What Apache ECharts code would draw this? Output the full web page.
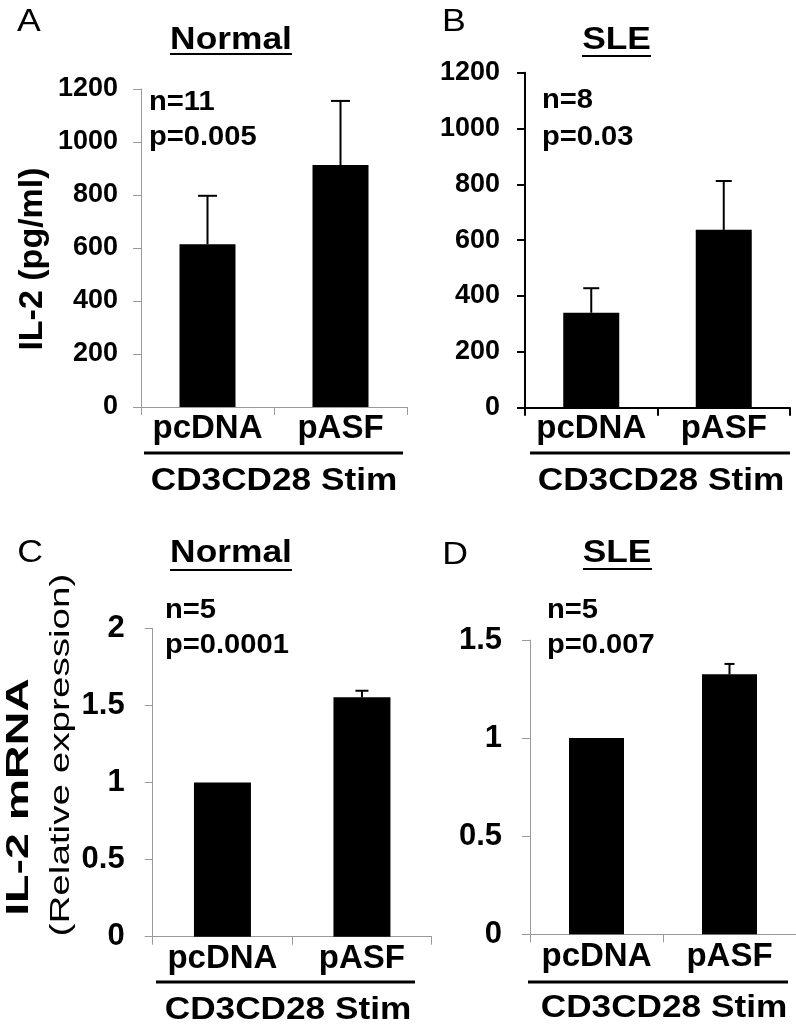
<!DOCTYPE html>
<html>
<head>
<meta charset="utf-8">
<script src="https://cdn.jsdelivr.net/npm/echarts@6/dist/echarts.min.js"></script>
<style>
html,body{margin:0;padding:0;background:#fff;}
#chart{width:796px;height:1036px;}
</style>
</head>
<body>
<div id="chart"></div>
<script>
// ---- data ----
const categories = ['pcDNA', 'pASF'];
const normalProtein = [614, 913];      // Panel A IL-2 (pg/ml)
const normalProteinErr = [183, 242];
const sleProtein = [340, 637];         // Panel B
const sleProteinErr = [88, 175];
const normalMrna = [1.0, 1.553];       // Panel C relative expression
const normalMrnaErr = [0, 0.042];
const sleMrna = [1.0, 1.325];          // Panel D
const sleMrnaErr = [0, 0.053];
const proteinTicks = {min: 0, max: 1200, interval: 200};
const mrnaTicksC = {min: 0, max: 2, interval: 0.5};
const mrnaTicksD = {min: 0, max: 1.5, interval: 0.5};
const panelTitles = ['Normal', 'SLE', 'Normal', 'SLE'];
const panelLetters = ['A', 'B', 'C', 'D'];
const stats = [['n=11', 'p=0.005'], ['n=8', 'p=0.03'], ['n=5', 'p=0.0001'], ['n=5', 'p=0.007']];
const groupLabel = 'CD3CD28 Stim';
const yTitleProtein = 'IL-2 (pg/ml)';
const yTitleMrna1 = 'IL-2 mRNA';
const yTitleMrna2 = '(Relative expression)';

// ---- layout ----
const FONT = '"Liberation Sans", Arial, Helvetica, sans-serif';
const grey = '#999999';
const grids = [
  {left: 141, top: 89, width: 266, height: 318},
  {left: 525, top: 72.7, width: 265, height: 335},
  {left: 152.7, top: 628.3, width: 279, height: 308.4},
  {left: 530, top: 640, width: 266, height: 294.3}
];
const axisColors = [grey, '#000', grey, grey];
const axisWidths = [1, 2, 1, 1];
const tickFont = [27, 27, 31, 31];
const labelMargins = [23, 25, 28, 28];
const catMargins = [5, 5, 6, 6];
const barWidths = [56, 56, 57, 55];
const capWidths = [19, 16, 13, 10];
const ticks = [proteinTicks, proteinTicks, mrnaTicksC, mrnaTicksD];
const means = [normalProtein, sleProtein, normalMrna, sleMrna];
const errs = [normalProteinErr, sleProteinErr, normalMrnaErr, sleMrnaErr];

const xAxis = [], yAxis = [], series = [];
for (let k = 0; k < 4; k++) {
  xAxis.push({
    type: 'category', gridIndex: k, data: categories, boundaryGap: true,
    axisLine: {lineStyle: {color: axisColors[k], width: axisWidths[k]}},
    axisTick: {show: true, alignWithLabel: false, length: 8, lineStyle: {color: axisColors[k], width: axisWidths[k]}},
    axisLabel: {interval: 0, margin: catMargins[k], color: '#000', fontSize: 33, fontWeight: 'bold', fontFamily: FONT},
    splitLine: {show: false}
  });
  yAxis.push({
    type: 'value', gridIndex: k, min: ticks[k].min, max: ticks[k].max, interval: ticks[k].interval,
    axisLine: {show: true, lineStyle: {color: axisColors[k], width: axisWidths[k]}},
    axisTick: {show: true, length: 8, lineStyle: {color: axisColors[k], width: axisWidths[k]}},
    axisLabel: {margin: labelMargins[k], color: '#000', fontSize: tickFont[k], fontWeight: 'bold', fontFamily: FONT,
      formatter: function (v) { return String(v); }},
    splitLine: {show: false}
  });
  series.push({
    type: 'bar', xAxisIndex: k, yAxisIndex: k, data: means[k], barWidth: barWidths[k],
    itemStyle: {color: '#000'}, silent: true, z: 2
  });
  const cap = capWidths[k];
  series.push({
    type: 'custom', xAxisIndex: k, yAxisIndex: k, z: 3, silent: true,
    data: means[k].map((m, i) => [i, m, errs[k][i]]),
    encode: {x: 0, y: 1},
    renderItem: function (params, api) {
      const i = api.value(0), m = api.value(1), e = api.value(2);
      if (!e) return {type: 'group', children: []};
      const p0 = api.coord([i, m]);
      const p1 = api.coord([i, m + e]);
      return {type: 'group', children: [
        {type: 'line', shape: {x1: p0[0], y1: p0[1], x2: p1[0], y2: p1[1]}, style: {stroke: '#000', lineWidth: 2}},
        {type: 'line', shape: {x1: p1[0] - cap / 2, y1: p1[1], x2: p1[0] + cap / 2, y2: p1[1]}, style: {stroke: '#000', lineWidth: 2}}
      ]};
    }
  });
}

function txt(x, y, text, size, weight, opt) {
  opt = opt || {};
  return {
    type: 'text', x: x, y: y, rotation: opt.rotation || 0, scaleX: opt.scaleX || 1, scaleY: opt.scaleY || 1,
    silent: true,
    style: {text: text, fontSize: size, fontWeight: weight, fontFamily: FONT, fill: '#000',
      align: opt.align || 'center', verticalAlign: 'middle'}
  };
}
function hline(x1, x2, y, w) {
  return {type: 'line', silent: true, shape: {x1: x1, y1: y, x2: x2, y2: y}, style: {stroke: '#000', lineWidth: w}};
}

const letterPos = [[29, 22], [454, 22], [30, 553], [455, 555]];
const titlePos = [[231, 40, 170, 292, 54], [616.5, 40, 582, 651, 56], [231, 553, 170, 292, 570], [617, 553, 583, 652, 569]];
const statPos = [[149, 102, 137], [542, 100, 137], [165, 610, 645], [547, 610, 645]];
const groupPos = [[144, 403, 453, 274, 481], [530, 790, 453, 661, 481], [156, 415, 982, 288, 1010], [528, 788, 982, 664, 1008]];

const graphic = [];
for (let k = 0; k < 4; k++) {
  graphic.push(txt(letterPos[k][0], letterPos[k][1], panelLetters[k], 31, 'normal', {scaleX: 1.15}));
  const t = titlePos[k];
  graphic.push(txt(t[0], t[1], panelTitles[k], 31, 'bold', {scaleX: 1.14}));
  graphic.push(hline(t[2], t[3], t[4], 2));
  const s = statPos[k];
  graphic.push(txt(s[0], s[1], stats[k][0], 28, 'bold', {align: 'left', scaleX: 1.04}));
  graphic.push(txt(s[0], s[2], stats[k][1], 28, 'bold', {align: 'left', scaleX: 1.04}));
  const g = groupPos[k];
  graphic.push(hline(g[0], g[1], g[2], 3));
  graphic.push(txt(g[3], g[4], groupLabel, 32, 'bold', {scaleX: 1.1}));
}
graphic.push(txt(33, 259, yTitleProtein, 34, 'bold', {rotation: Math.PI / 2}));
graphic.push(txt(19, 797, yTitleMrna1, 31, 'bold', {rotation: Math.PI / 2, scaleX: 1.5}));
graphic.push(txt(61, 755, yTitleMrna2, 28, 'normal', {rotation: Math.PI / 2, scaleX: 1.38}));

const chart = echarts.init(document.getElementById('chart'), null, {renderer: 'canvas'});
chart.setOption({
  animation: false,
  backgroundColor: '#fff',
  grid: grids,
  xAxis: xAxis,
  yAxis: yAxis,
  series: series,
  graphic: graphic
});
</script>
</body>
</html>
